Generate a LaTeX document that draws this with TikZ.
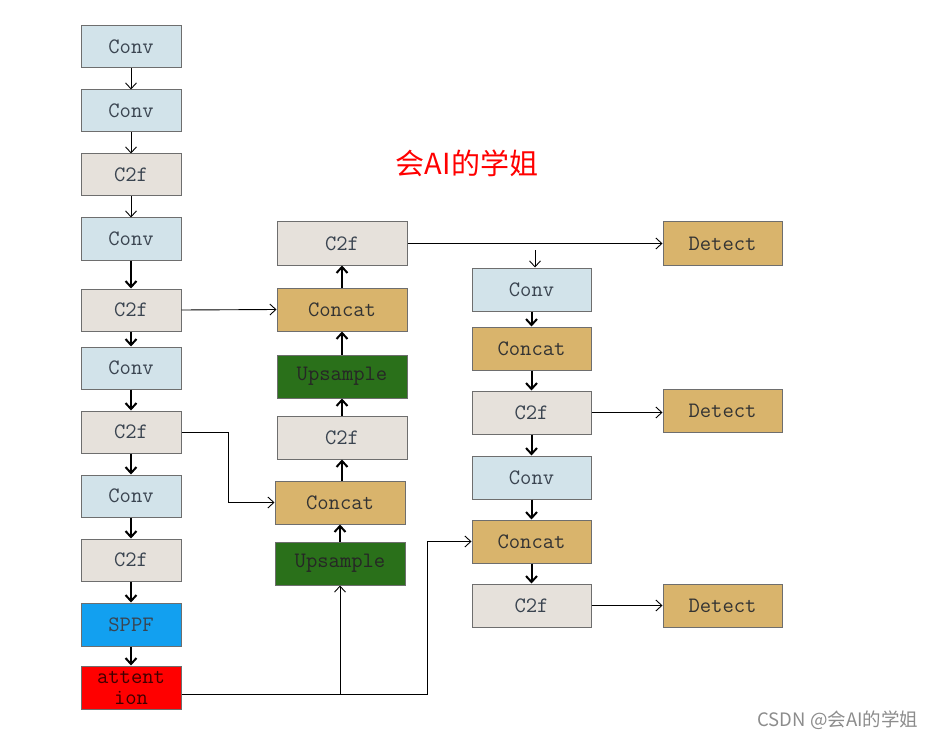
\documentclass[tikz,border=0pt]{standalone}
\usepackage{fontspec}
\newfontfamily\cjk{Noto Sans CJK SC}
\usetikzlibrary{arrows.meta}
\definecolor{convc}{HTML}{D2E3EA}
\definecolor{c2fc}{HTML}{E6E1DB}
\definecolor{catc}{HTML}{D9B46C}
\definecolor{upc}{HTML}{2A701A}
\definecolor{sppfc}{HTML}{12A0F0}
\definecolor{attc}{HTML}{FF0000}
\definecolor{bordc}{HTML}{6E6E6E}
\definecolor{txtc}{HTML}{3A4450}
\begin{document}
\begin{tikzpicture}[x=1pt,y=-1pt,
  blk/.style={draw=bordc,line width=1pt,inner sep=0pt,font=\ttfamily\fontsize{22}{24}\selectfont,text=txtc},
  lbox/.style={blk,minimum width=100pt,minimum height=42pt},
  mbox/.style={blk,minimum width=130pt,minimum height=43pt},
  rbox/.style={blk,minimum width=119pt,minimum height=43pt},
  conv/.style={fill=convc},
  cf/.style={fill=c2fc},
  cat/.style={fill=catc,text=black!80},
  ups/.style={fill=upc,text=black!85},
  thin/.style={-{Straight Barb[length=6pt,width=11pt]},line width=0.9pt},
  thick/.style={-{Straight Barb[length=6pt,width=11pt]},line width=2pt},
  ]
\useasboundingbox (0,0) rectangle (937,738);
% left column
\node[lbox,conv] (l1) at (131,47) {Conv};
\node[lbox,conv] (l2) at (131,111) {Conv};
\node[lbox,cf] (l3) at (131,175) {C2f};
\node[lbox,conv] (l4) at (131,239) {Conv};
\node[lbox,cf] (l5) at (131,310) {C2f};
\node[lbox,conv] (l6) at (131,368) {Conv};
\node[lbox,cf] (l7) at (131,432) {C2f};
\node[lbox,conv] (l8) at (131,496) {Conv};
\node[lbox,cf] (l9) at (131,560) {C2f};
\node[lbox,fill=sppfc,minimum height=43pt] (l10) at (131,624.5) {SPPF};
\node[lbox,fill=attc,minimum height=43pt,text=black!75!red,align=center,font=\ttfamily\fontsize{22}{21}\selectfont] (l11) at (131,687.5) {attent\\ion};
\draw[thin] (l1) -- (l2);
\draw[thin] (l2) -- (l3);
\draw[thin] (l3) -- (l4);
\draw[thick] (l4) -- (l5);
\draw[thick] (l5) -- (l6);
\draw[thick] (l6) -- (l7);
\draw[thick] (l7) -- (l8);
\draw[thick] (l8) -- (l9);
\draw[thick] (l9) -- (l10);
\draw[thick] (l10) -- (l11);
% middle column
\node[mbox,cf] (m1) at (342,243.5) {C2f};
\node[mbox,cat] (m2) at (342,309.5) {Concat};
\node[mbox,ups] (m3) at (342,376.5) {Upsample};
\node[mbox,cf] (m4) at (342,437.5) {C2f};
\node[mbox,cat] (m5) at (340,502.5) {Concat};
\node[mbox,ups] (m6) at (340,563.5) {Upsample};
\draw[thick] (m6) -- (m5);
\draw[thick] (m5.north -| m4) -- (m4);
\draw[thick] (m4) -- (m3);
\draw[thick] (m3) -- (m2);
\draw[thick] (m2) -- (m1);
% right column
\node[rbox,conv] (r1) at (531.5,289.5) {Conv};
\node[rbox,cat] (r2) at (531.5,348.5) {Concat};
\node[rbox,cf] (r3) at (531.5,412.5) {C2f};
\node[rbox,conv] (r4) at (531.5,477.5) {Conv};
\node[rbox,cat] (r5) at (531.5,541.5) {Concat};
\node[rbox,cf] (r6) at (531.5,605.5) {C2f};
\draw[thick] (r1) -- (r2);
\draw[thick] (r2) -- (r3);
\draw[thick] (r3) -- (r4);
\draw[thick] (r4) -- (r5);
\draw[thick] (r5) -- (r6);
% detect
\node[rbox,cat] (d1) at (722.5,243.5) {Detect};
\node[rbox,cat] (d2) at (722.5,410.5) {Detect};
\node[rbox,cat] (d3) at (722.5,605.5) {Detect};
\draw[thin] (m1.east) -- (d1.west);
\coordinate (cstart) at (535,250);
\draw[thin] (cstart) -- (r1.north -| cstart);
\draw[thin] (r3.east) -- (d2.west |- r3.east);
\draw[thin] (r6.east) -- (d3.west);
% cross connections
\draw[thin] (l5.east) -- (m2.west);
\coordinate (b1) at (228,432);
\draw[thin] (l7.east) -- (b1) |- (m5.west);
\coordinate (b2) at (427,694);
\draw[thin] (l11.east |- b2) -- (b2) |- (r5.west);
\coordinate (b3) at (340,694);
\draw[thin] (b3) -- (m6.south);
% texts
\node[text=red,font=\cjk\fontsize{29}{32}\selectfont,inner sep=0pt] (title) at (467,163) {会AI的学姐};
\node[text=black!45,font=\cjk\fontsize{18.5}{20}\selectfont,inner sep=0pt] (wm) at (838,720) {CSDN @会AI的学姐};
\end{tikzpicture}
\end{document}
